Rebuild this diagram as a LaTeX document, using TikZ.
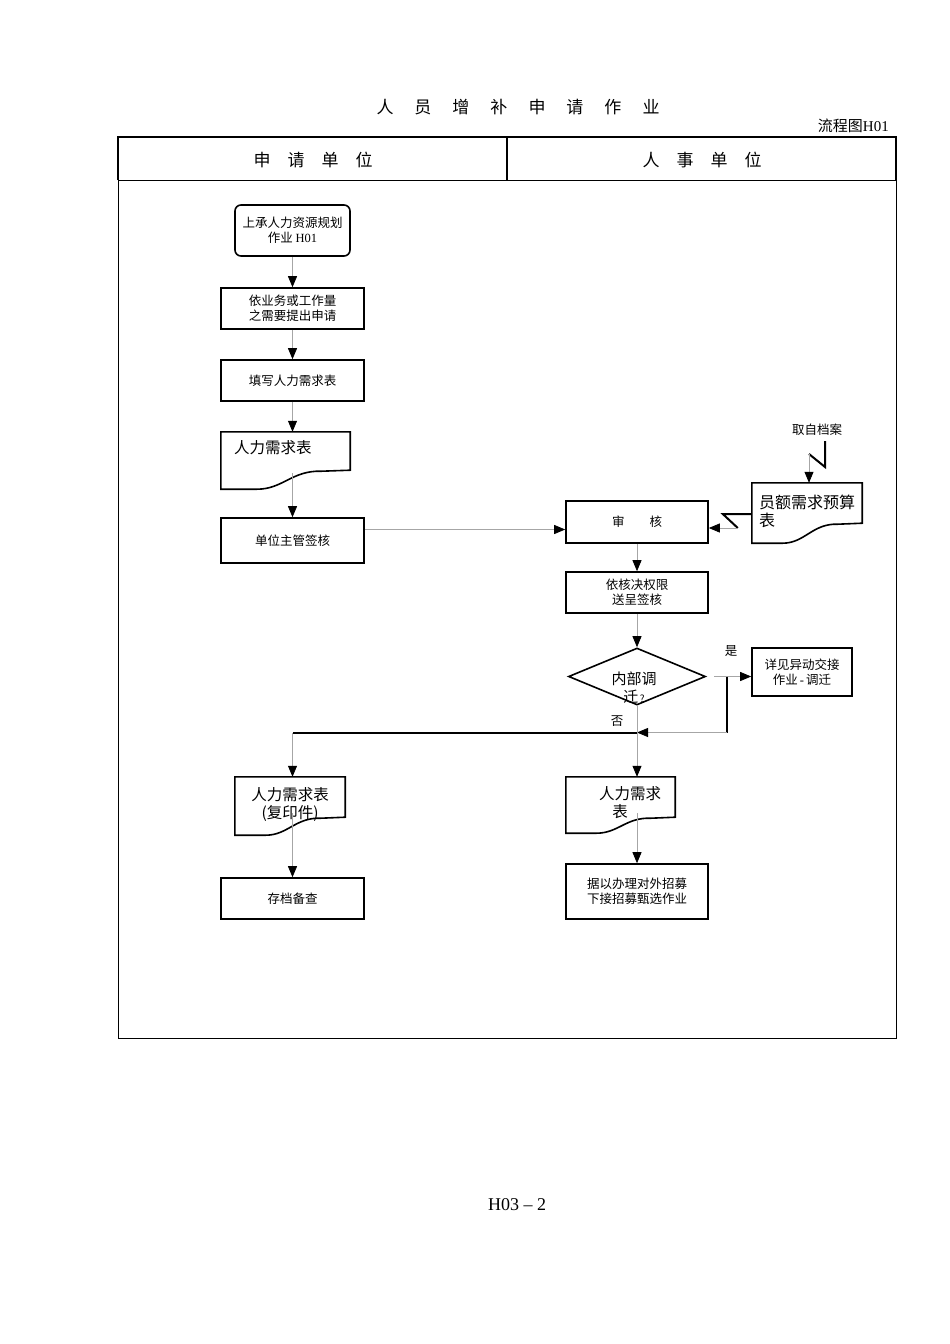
\documentclass[tikz,border=0pt]{standalone}
\usepackage{fontspec}
\setmainfont{Liberation Serif}
\newfontfamily\cjk{Noto Sans CJK SC}
\usepackage{tikz}
\usetikzlibrary{arrows.meta, positioning, shapes.geometric, calc}

% document outline with a wavy bottom; #2 = rise of the right corner
\newcommand{\docpath}[2]{%
  \draw[boxline] (#1.north west) -- (#1.north east) -- ([yshift=#2pt]#1.south east)
    -- ($(#1.south west)!0.78!(#1.south east)+(0,-#2+1)$)
    .. controls ($(#1.south west)!0.55!(#1.south east)+(0,-#2)$) and ($(#1.south west)!0.48!(#1.south east)$)
    .. ($(#1.south west)!0.28!(#1.south east)$) -- (#1.south west) -- cycle;}

\begin{document}
\begin{tikzpicture}[x=1pt, y=-1pt]
    % Define styles
    \tikzset{
        boxline/.style={draw, line width=1.6pt},
        stepbox/.style={boxline, rectangle, inner sep=0pt, align=center, font=\cjk\fontsize{12.5}{15}\selectfont},
        startbox/.style={stepbox, rounded corners=6pt},
        docbox/.style={rectangle, inner sep=0pt},
        doctext/.style={inner sep=0pt, align=center, font=\cjk\fontsize{15.5}{18}\selectfont},
        decision/.style={boxline, diamond, inner sep=0pt},
        flow/.style={draw=black!35, line width=0.8pt, -{Triangle[length=11pt, width=9pt, color=black]}},
        heavy/.style={line width=2pt},
        small/.style={inner sep=0pt, font=\cjk\fontsize{12.5}{15}\selectfont},
        headtext/.style={inner sep=0pt, font=\cjk\fontsize{17}{20}\selectfont}
    }
    \useasboundingbox (0,0) rectangle (950,1344);

    % Title and frame
    \node[headtext] (title) at (518,107) {人\hspace{21pt}员\hspace{21pt}增\hspace{21pt}补\hspace{21pt}申\hspace{21pt}请\hspace{21pt}作\hspace{21pt}业};
    \node[inner sep=0pt, anchor=east, font=\fontsize{15}{18}\selectfont] (chart) at (889,126) {{\cjk 流程图}H01};
    \draw[line width=2.4pt] (118,180) -- (118,137) -- (896,137) -- (896,180);
    \draw[line width=2pt] (507,137) -- (507,180);
    \draw[line width=1pt] (118,180) -- (896,180);
    \draw[line width=1pt] (118,180) -- (118,1038) -- (896,1038) -- (896,180);
    \node[headtext] (lane1) at (313,160) {申\hspace{17pt}请\hspace{17pt}单\hspace{17pt}位};
    \node[headtext] (lane2) at (702,160) {人\hspace{17pt}事\hspace{17pt}单\hspace{17pt}位};

    % Applying unit
    \node[startbox, minimum width=115pt, minimum height=51pt] (start) at (292.5,230.5) {上承人力资源规划\\作业 {\rmfamily H01}};
    \node[stepbox, minimum width=143pt, minimum height=41pt] (need) at (292.5,308.5) {依业务或工作量\\之需要提出申请};
    \node[stepbox, minimum width=143pt, minimum height=41pt] (fill) at (292.5,380.5) {填写人力需求表};
    \node[docbox, minimum width=129pt, minimum height=57pt] (form) at (285.5,460.5) {};
    \docpath{form}{19}
    \node[doctext] (formt) at ([shift={(52,16)}]form.north west) {人力需求表};
    \node[stepbox, minimum width=143pt, minimum height=45pt] (sign) at (292.5,540.5) {单位主管签核};

    % HR unit
    \node[stepbox, minimum width=142pt, minimum height=42pt] (check) at (637,522) {审\hspace{25pt}核};
    \node[small] (file) at (817,430) {取自档案};
    \node[docbox, minimum width=110pt, minimum height=60pt] (budget) at (807,513) {};
    \docpath{budget}{20}
    \node[doctext, anchor=west, align=left, font=\cjk\fontsize{16}{18}\selectfont] (budgett) at (759,511) {员额需求预算\\表};
    \node[stepbox, minimum width=142pt, minimum height=41pt] (route) at (637,592.5) {依核决权限\\送呈签核};
    \node[decision, minimum width=137pt, minimum height=57pt] (inner) at (637,676.5) {};
    \node[doctext, font=\cjk\fontsize{15}{18}\selectfont] (innert) at (634,688) {内部调\\迁{\fontsize{10}{12}\selectfont\,?}};
    \node[stepbox, minimum width=100pt, minimum height=48pt] (move) at (802,672) {详见异动交接\\作业\,{\rmfamily -}\,调迁};
    \node[small] (yes) at (731,651) {是};
    \node[small] (no) at (617,721) {否};

    % Lower row
    \node[docbox, minimum width=110pt, minimum height=58pt] (copy) at (290,806) {};
    \docpath{copy}{18}
    \node[doctext] (copyt) at (290,804) {人力需求表\\(复印件)};
    \node[docbox, minimum width=109pt, minimum height=56pt] (form2) at (620.5,805) {};
    \docpath{form2}{16}
    \node[doctext] (form2t) at (630,803) {人力需求\\表\hspace*{20pt}};
    \node[stepbox, minimum width=143pt, minimum height=41pt] (keep) at (292.5,898.5) {存档备查};
    \node[stepbox, minimum width=142pt, minimum height=55pt] (hire) at (637,891.5) {据以办理对外招募\\下接招募甄选作业};

    \node[inner sep=0pt, font=\fontsize{18}{20}\selectfont] (page) at (517,1205) {H03 -- 2};

    % Connectors
    \draw[flow] (start.south) -- (need.north);
    \draw[flow] (need.south) -- (fill.north);
    \draw[flow] (fill.south) -- (fill.south |- form.north);
    \draw[flow] ($(sign.north |- form.south)+(0,-16)$) -- (sign.north);
    \draw[flow] ([yshift=11pt]sign.east) -- ([yshift=11pt]sign.east -| check.west);
    \draw[heavy] ([shift={(8,5)}]file.south) -- ++(0,26) -- ++(-16,-13) coordinate (z2);
    \draw[flow] (z2) -- (z2 |- budget.north);
    \draw[heavy] ([yshift=-1pt]budget.west) -- ++(-29,0) -- ++(15,14) coordinate (z1);
    \draw[flow] (z1) -- (z1 -| check.east);
    \draw[flow] (check.south) -- (route.north);
    \draw[flow] (route.south) -- (inner.north);
    \draw[flow] ([xshift=8pt]inner.east) -- (inner.east -| move.west);
    \draw[heavy] ([xshift=21pt]inner.east) -- ++(0,56) coordinate (z3);
    \draw[flow] (z3) -- (z3 -| inner.south);
    \draw[flow] (inner.south) -- (inner.south |- form2.north);
    \draw[heavy] (z3 -| inner.south) -- (z3 -| keep.north);
    \draw[flow] (z3 -| keep.north) -- (keep.north |- copy.north);
    \draw[flow] ($(keep.north |- copy.south)+(0,-22)$) -- (keep.north);
    \draw[flow] ($(hire.north |- form2.south)+(0,-20)$) -- (hire.north);
\end{tikzpicture}
\end{document}
